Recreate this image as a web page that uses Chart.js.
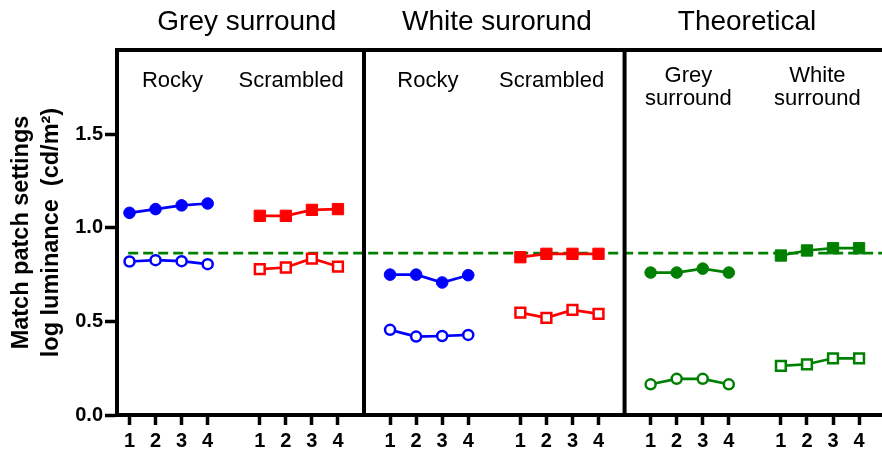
<!DOCTYPE html>
<html>
<head>
<meta charset="utf-8">
<script src="https://cdn.jsdelivr.net/npm/chart.js@4.4.1/dist/chart.umd.min.js"></script>
<style>
  html, body { margin: 0; padding: 0; background: #fff; }
  canvas { display: block; }
</style>
</head>
<body>
<canvas id="chart-match" width="882" height="453"></canvas>
<script>
// tick labels
var conditions = ['1', '2', '3', '4'];
var yTicks = [0, 0.5, 1.0, 1.5];
var referenceLevel = 0.865;

var panelTitles = ['Grey surround', 'White surorund', 'Theoretical'];
var groupLabels = [['Rocky'], ['Scrambled'], ['Rocky'], ['Scrambled'], ['Grey', 'surround'], ['White', 'surround']];

// grey surround
var greyRockyFilled = [1.08, 1.10, 1.12, 1.13];
var greyRockyOpen = [0.82, 0.827, 0.822, 0.806];
var greyScrambledFilled = [1.064, 1.064, 1.096, 1.10];
var greyScrambledOpen = [0.779, 0.788, 0.836, 0.793];

// white surround
var whiteRockyFilled = [0.75, 0.75, 0.708, 0.747];
var whiteRockyOpen = [0.455, 0.419, 0.422, 0.428];
var whiteScrambledFilled = [0.843, 0.861, 0.861, 0.861];
var whiteScrambledOpen = [0.547, 0.519, 0.561, 0.54];

// theoretical
var theoGreyFilled = [0.761, 0.761, 0.782, 0.761];
var theoGreyOpen = [0.164, 0.193, 0.193, 0.164];
var theoWhiteFilled = [0.852, 0.879, 0.891, 0.891];
var theoWhiteOpen = [0.262, 0.271, 0.303, 0.303];

// layout on the linear x axis
var xMin = 0.52, xMax = 29.88, yMax = 1.95;
var groupStart = [1, 6, 11, 16, 21, 26];
var dividers = [10, 20];
var titleAt = [5.5, 15.1, 24.7];
var labelAt = [2.65, 7.2, 12.45, 17.2, 22.45, 27.4];

var BLUE = '#0000ff', RED = '#ff0000', GREEN = '#008000';
var FONT = '"Liberation Sans", Arial, sans-serif';

var tickPositions = [];
groupStart.forEach(function (s) {
    conditions.forEach(function (c, i) { tickPositions.push(s + i); });
});

function series(values, group, color, shape, filled) {
    var square = shape === 'rect';
    return {
        type: 'line',
        data: values.map(function (v, i) { return { x: groupStart[group] + i, y: v }; }),
        borderColor: color,
        borderWidth: 2.7,
        pointStyle: shape,
        pointRadius: square ? (filled ? 8 : 6.9) : (filled ? 5.8 : 5.0),
        pointBackgroundColor: filled ? color : '#fff',
        pointBorderColor: color,
        pointBorderWidth: filled ? 1 : 2.5,
        fill: false,
        tension: 0,
        order: 1
    };
}

var datasets = [
    series(greyRockyFilled, 0, BLUE, 'circle', true),
    series(greyRockyOpen, 0, BLUE, 'circle', false),
    series(greyScrambledFilled, 1, RED, 'rect', true),
    series(greyScrambledOpen, 1, RED, 'rect', false),
    series(whiteRockyFilled, 2, BLUE, 'circle', true),
    series(whiteRockyOpen, 2, BLUE, 'circle', false),
    series(whiteScrambledFilled, 3, RED, 'rect', true),
    series(whiteScrambledOpen, 3, RED, 'rect', false),
    series(theoGreyFilled, 4, GREEN, 'circle', true),
    series(theoGreyOpen, 4, GREEN, 'circle', false),
    series(theoWhiteFilled, 5, GREEN, 'rect', true),
    series(theoWhiteOpen, 5, GREEN, 'rect', false),
    {
        type: 'line',
        data: [{ x: 0.95, y: referenceLevel }, { x: xMax, y: referenceLevel }],
        borderColor: GREEN,
        borderWidth: 2.8,
        borderDash: [10, 5],
        pointRadius: 0,
        order: 5
    }
];

// frame, panel dividers and the text headings
var panelFrame = {
    id: 'panelFrame',
    afterDraw: function (chart) {
        var ctx = chart.ctx, a = chart.chartArea, x = chart.scales.x;
        ctx.save();
        ctx.strokeStyle = '#000';
        ctx.lineWidth = 4;
        ctx.beginPath();
        ctx.moveTo(a.left - 2, a.top);
        ctx.lineTo(a.right, a.top);
        dividers.forEach(function (d) {
            var px = x.getPixelForValue(d);
            ctx.moveTo(px, a.top);
            ctx.lineTo(px, a.bottom);
        });
        ctx.stroke();

        ctx.fillStyle = '#000';
        ctx.textAlign = 'center';
        ctx.textBaseline = 'alphabetic';
        ctx.font = '28px ' + FONT;
        panelTitles.forEach(function (t, i) {
            ctx.fillText(t, x.getPixelForValue(titleAt[i]), 30);
        });
        ctx.font = '22px ' + FONT;
        groupLabels.forEach(function (lines, i) {
            var y0 = lines.length > 1 ? 82 : 87;
            lines.forEach(function (s, j) {
                ctx.fillText(s, x.getPixelForValue(labelAt[i]), y0 + j * 23);
            });
        });
        ctx.restore();
    }
};

new Chart(document.getElementById('chart-match').getContext('2d'), {
    type: 'line',
    data: { datasets: datasets },
    options: {
        responsive: false,
        animation: false,
        events: [],
        layout: { autoPadding: false, padding: { top: 50, left: 0, right: 0, bottom: 0 } },
        plugins: {
            legend: { display: false },
            tooltip: { enabled: false }
        },
        scales: {
            x: {
                type: 'linear',
                min: xMin,
                max: xMax,
                afterBuildTicks: function (scale) {
                    scale.ticks = tickPositions.map(function (v) { return { value: v }; });
                },
                afterFit: function (scale) {
                    scale.height = 38;
                    scale.paddingLeft = 0;
                    scale.paddingRight = 0;
                },
                grid: {
                    drawOnChartArea: false,
                    drawTicks: true,
                    tickLength: 10,
                    tickWidth: 3.5,
                    tickColor: '#000'
                },
                border: { display: true, width: 4, color: '#000' },
                ticks: {
                    color: '#000',
                    padding: 4,
                    autoSkip: false,
                    maxRotation: 0,
                    font: { family: FONT, size: 20, weight: 'bold' },
                    callback: function (v) { return conditions[(v - 1) % 5]; }
                }
            },
            y: {
                type: 'linear',
                min: 0,
                max: yMax,
                afterBuildTicks: function (scale) {
                    scale.ticks = yTicks.map(function (v) { return { value: v }; });
                },
                afterFit: function (scale) {
                    scale.width = 117;
                    scale.paddingTop = 0;
                    scale.paddingBottom = 0;
                },
                grid: {
                    drawOnChartArea: false,
                    drawTicks: true,
                    tickLength: 12,
                    tickWidth: 3.5,
                    tickColor: '#000'
                },
                border: { display: true, width: 4, color: '#000' },
                ticks: {
                    color: '#000',
                    padding: 2,
                    font: { family: FONT, size: 20, weight: 'bold' },
                    callback: function (v) { return v.toFixed(1); }
                },
                title: {
                    display: true,
                    text: ['Match patch settings', 'log luminance  (cd/m\u00B2)'],
                    color: '#000',
                    padding: { top: 6, bottom: 0 },
                    font: { family: FONT, size: 23.5, weight: 'bold', lineHeight: 1.28 }
                }
            }
        }
    },
    plugins: [panelFrame]
});
</script>
</body>
</html>
